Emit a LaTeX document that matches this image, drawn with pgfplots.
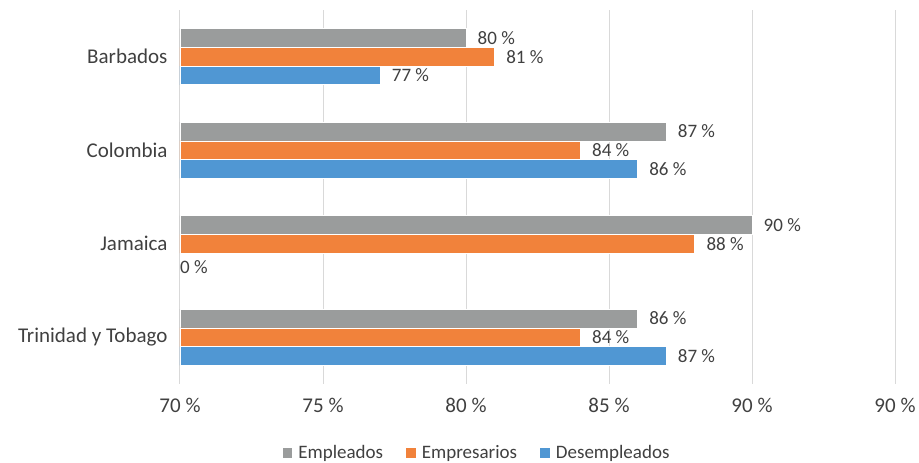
\documentclass[border=0pt]{standalone}
\usepackage{pgfplots}
\pgfplotsset{compat=1.18}
\usepackage{fontspec}
\setmainfont{Carlito}

\definecolor{cEmp}{HTML}{9A9C9C}
\definecolor{cPat}{HTML}{F1823B}
\definecolor{cDes}{HTML}{5097D3}
\definecolor{txt}{HTML}{404040}
\definecolor{grd}{HTML}{D9D9D9}

\newcommand{\lbl}{\fontsize{19}{23}\selectfont}
\newcommand{\tck}{\fontsize{21}{25}\selectfont}

\begin{document}
\begin{tikzpicture}[font=\lbl, text=txt]
\useasboundingbox (0,0) rectangle (919pt,463pt);
\begin{axis}[
    at={(180pt,79pt)}, anchor=south west,
    scale only axis,
    width=715pt, height=374pt,
    xbar=0pt,
    bar width=18.7pt,
    xmin=70, xmax=95,
    ymin=-0.5, ymax=3.5,
    y dir=reverse,
    xtick={70,75,80,85,90,95},
    xticklabels={70 \%,75 \%,80 \%,85 \%,90 \%,90 \%},
    ytick={0,1,2,3},
    yticklabels={Barbados,Colombia,Jamaica,Trinidad y Tobago},
    xmajorgrids,
    major grid style={draw=grd, line width=1pt},
    axis line style={draw=none},
    major tick length=0pt,
    tick label style={font=\tck, text=txt},
    xticklabel style={yshift=-11pt},
    yticklabel style={xshift=-9pt},
    /pgf/number format/assume math mode=true,
    nodes near coords={\pgfmathprintnumber{\pgfplotspointmeta}~\%},
    nodes near coords style={anchor=west, xshift=8pt, font=\lbl, text=txt},
    point meta=x,
    legend columns=3,
    legend style={draw=none, at={(0.4147,-0.1845)}, anchor=center,
        font=\lbl, text=txt,
        /tikz/every even column/.append style={column sep=20pt}},
    legend image code/.code={\fill[#1] (0pt,-5pt) rectangle (10.5pt,5.5pt);
        \path (0pt,0pt) (14pt,0pt);},
    clip=true,
]
\addplot[fill=cEmp, draw=white, line width=0.8pt, bar shift=18.7pt]
    coordinates {(80,0) (87,1) (90,2) (86,3)};
\addplot[fill=cPat, draw=white, line width=0.8pt, bar shift=0pt]
    coordinates {(81,0) (84,1) (88,2) (84,3)};
\addplot[fill=cDes, draw=white, line width=0.8pt, bar shift=-18.7pt,
    restrict x to domain=60:100]
    coordinates {(77,0) (86,1) (0,2) (87,3)};
\legend{Empleados,Empresarios,Desempleados}
\node[anchor=west, inner sep=0pt, font=\lbl, text=txt] at ([yshift=-23pt]axis cs:70,2) {0~\%};
\end{axis}
\end{tikzpicture}
\end{document}
